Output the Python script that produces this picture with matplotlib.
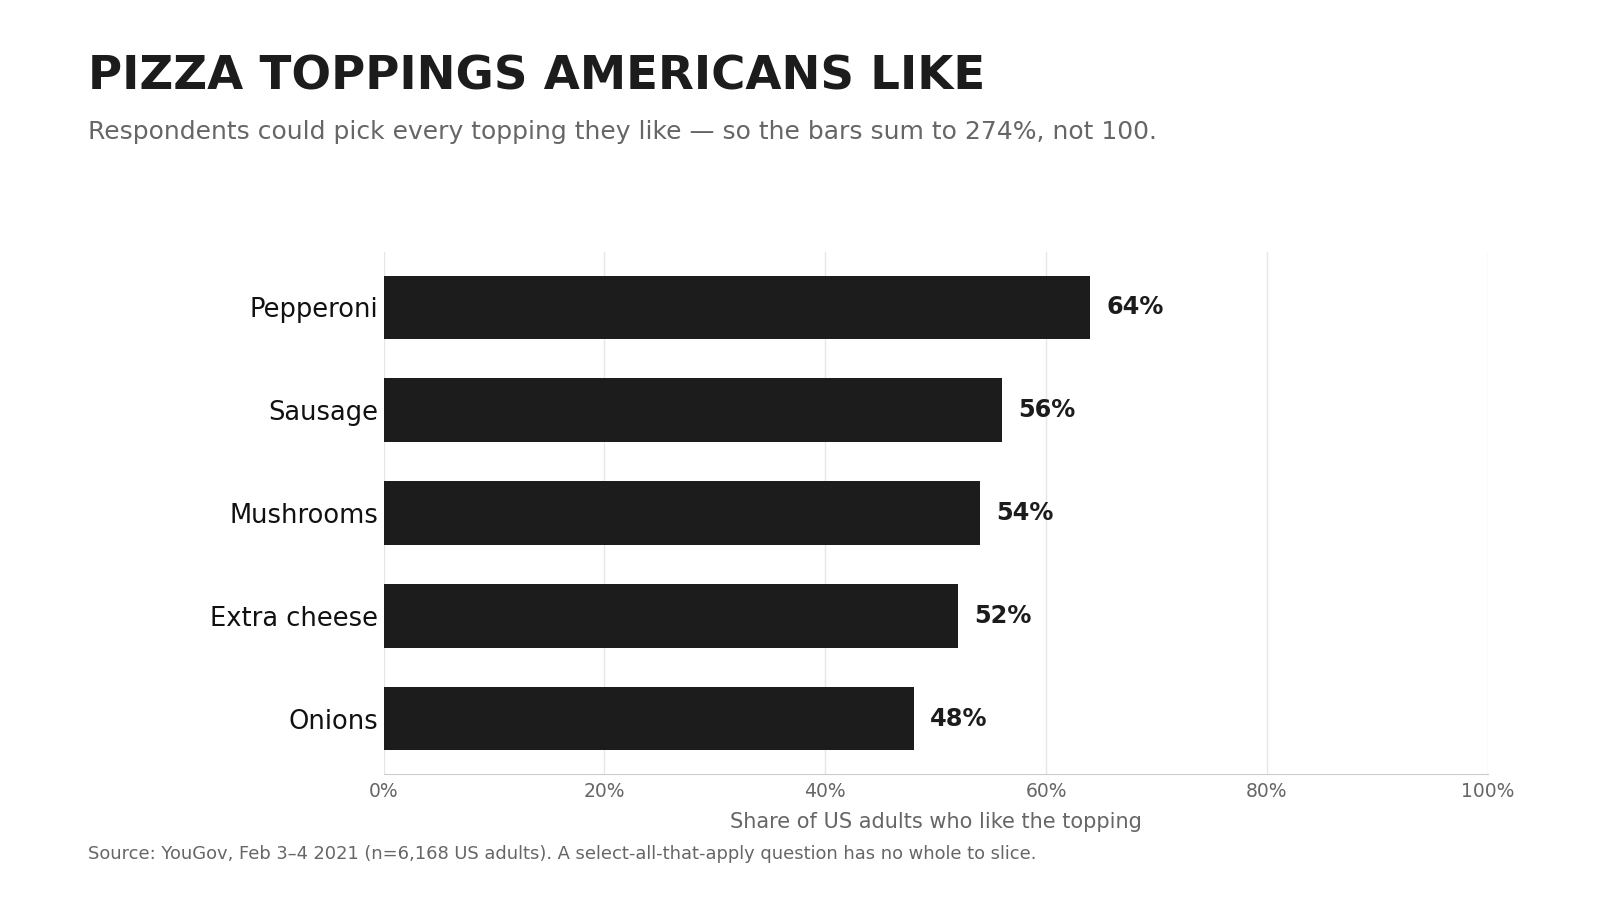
import matplotlib.pyplot as plt

plt.rcParams["font.family"] = ["DejaVu Sans"]

toppings = ["Pepperoni", "Sausage", "Mushrooms", "Extra cheese", "Onions"]
shares = [64, 56, 54, 52, 48]
x_ticks = [0, 20, 40, 60, 80, 100]

fig = plt.figure(figsize=(16, 9), dpi=100)
ax = fig.add_axes([0.2398, 0.140, 0.690, 0.580])

ypos = list(range(len(toppings)))
ax.barh(ypos, shares, height=0.62, color="#1c1c1c", zorder=3)
for y, v in zip(ypos, shares):
    ax.text(v + 1.5, y, f"{v}%", va="center", ha="left", fontsize=17.3,
            fontweight="bold", color="#1c1c1c")

ax.set_ylim(len(toppings) - 0.46, -0.54)
ax.set_xlim(0, 100)
ax.set_yticks(ypos)
ax.set_yticklabels(toppings, fontsize=18.5, color="#111111")
ax.set_xticks(x_ticks)
ax.set_xticklabels([f"{t}%" for t in x_ticks], fontsize=13.5, color="#666666")
ax.tick_params(length=0, pad=4)
ax.tick_params(axis="x", pad=6)
ax.grid(axis="x", color="#e6e6e6", linewidth=1, zorder=0)
for s in ["top", "right", "left"]:
    ax.spines[s].set_visible(False)
ax.spines["bottom"].set_color("#cccccc")
ax.set_xlabel("Share of US adults who like the topping", fontsize=15,
              color="#666666", labelpad=8)

fig.text(0.055, 0.914, "PIZZA TOPPINGS AMERICANS LIKE", fontsize=33.6,
         fontweight="bold", color="#1c1c1c", va="center")
fig.text(0.055, 0.853, "Respondents could pick every topping they like \u2014 so the bars sum to 274%, not 100.",
         fontsize=18, color="#666666", va="center")
fig.text(0.055, 0.051, "Source: YouGov, Feb 3\u20134 2021 (n=6,168 US adults). A select-all-that-apply question has no whole to slice.",
         fontsize=12.9, color="#666666", va="center")

fig.savefig("out.png", dpi=100)
